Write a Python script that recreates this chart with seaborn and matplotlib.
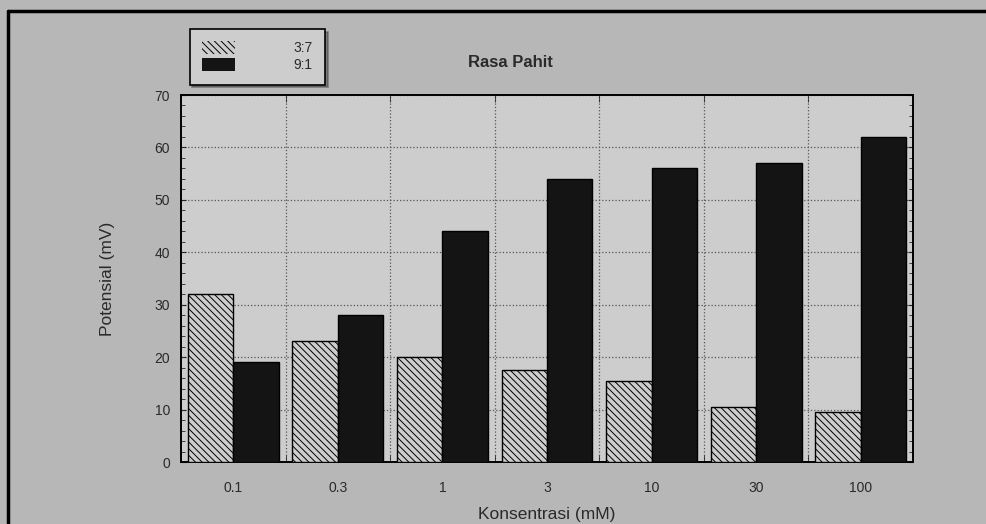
import pandas as pd
import matplotlib.pyplot as plt
import matplotlib.ticker as mticker
from matplotlib.patches import Patch
import seaborn as sns

# values
konsentrasi = ['0.1', '0.3', '1', '3', '10', '30', '100']
rasio_37 = [32, 23, 20, 17.5, 15.5, 10.5, 9.5]
rasio_91 = [19, 28, 44, 54, 56, 57, 62]
series = ['3:7', '9:1']

df = pd.DataFrame({
    'konsentrasi': konsentrasi * 2,
    'potensial': rasio_37 + rasio_91,
    'rasio': [series[0]] * len(konsentrasi) + [series[1]] * len(konsentrasi),
})

fig_bg = '#b7b7b7'
ax_bg = '#cdcdcd'
txt = '#2a2a2a'
hatch = '\\' * 5

sns.set_style('ticks')
plt.rcParams['font.family'] = ['Liberation Sans', 'DejaVu Sans']
plt.rcParams['hatch.linewidth'] = 0.7

fig = plt.figure(figsize=(9.87, 5.24), dpi=100, facecolor=fig_bg)
ax = fig.add_axes([0.1834, 0.1183, 0.7416, 0.7004])
ax.set_facecolor(ax_bg)

sns.barplot(data=df, x='konsentrasi', y='potensial', hue='rasio',
            order=konsentrasi, hue_order=series,
            palette={'3:7': ax_bg, '9:1': '#141414'},
            width=0.87, gap=0, edgecolor='black', linewidth=1.0,
            legend=False, ax=ax, zorder=3)

# first series is hatched, as in the print
for bar in ax.containers[0]:
    bar.set_hatch(hatch)

ax.set_ylim(0, 70)
ax.set_xlim(-0.5, len(konsentrasi) - 0.5)
ax.yaxis.set_major_locator(mticker.MultipleLocator(10))
ax.yaxis.set_minor_locator(mticker.MultipleLocator(2))
ax.xaxis.set_minor_locator(mticker.FixedLocator([i + 0.5 for i in range(len(konsentrasi) - 1)]))

ax.grid(True, which='major', axis='y', linestyle=':', color='#555555', linewidth=0.9, zorder=0)
ax.grid(True, which='minor', axis='x', linestyle=':', color='#555555', linewidth=0.9, zorder=0)
ax.set_axisbelow(True)

ax.tick_params(axis='y', which='both', direction='in', left=True, right=True, labelsize=10, labelcolor=txt, pad=8)
ax.tick_params(axis='y', which='minor', length=3)
ax.tick_params(axis='x', which='major', length=0, labelsize=10, labelcolor=txt, pad=14)
ax.tick_params(axis='x', which='minor', direction='in', top=True, bottom=True, length=5)

for s in ax.spines.values():
    s.set_visible(True)
    s.set_color('black')
    s.set_linewidth(1.4)

ax.set_xlabel('Konsentrasi (mM)', fontsize=12.5, color=txt, labelpad=8)
ax.set_ylabel('Potensial (mV)', fontsize=12.5, color=txt, labelpad=28)

fig.text(0.517, 0.880, 'Rasa Pahit', ha='center', va='center', fontsize=12, fontweight='bold', color=txt)

# legend box sits above the axes, left side
handles = [Patch(facecolor=ax_bg, edgecolor='black', linewidth=0, hatch=hatch),
           Patch(facecolor='#141414', edgecolor='none')]
leg = fig.legend(handles, series, loc='upper left', bbox_to_anchor=(0.192, 0.945),
                 frameon=True, fancybox=False, shadow=True, fontsize=10,
                 handlelength=2.4, handleheight=1.0, handletextpad=4.2,
                 borderpad=0.9, labelspacing=0.2, borderaxespad=0)
leg.get_frame().set_facecolor(ax_bg)
leg.get_frame().set_edgecolor('black')
leg.get_frame().set_linewidth(1.2)
for t in leg.get_texts():
    t.set_color(txt)

# frame lines of the scanned page (top and left)
fig.add_artist(plt.Line2D([0.008, 1.0], [0.979, 0.979], color='black', linewidth=2.5))
fig.add_artist(plt.Line2D([0.008, 0.008], [0.0, 0.979], color='black', linewidth=2.5))

fig.savefig('out.png', dpi=100, facecolor=fig_bg)
